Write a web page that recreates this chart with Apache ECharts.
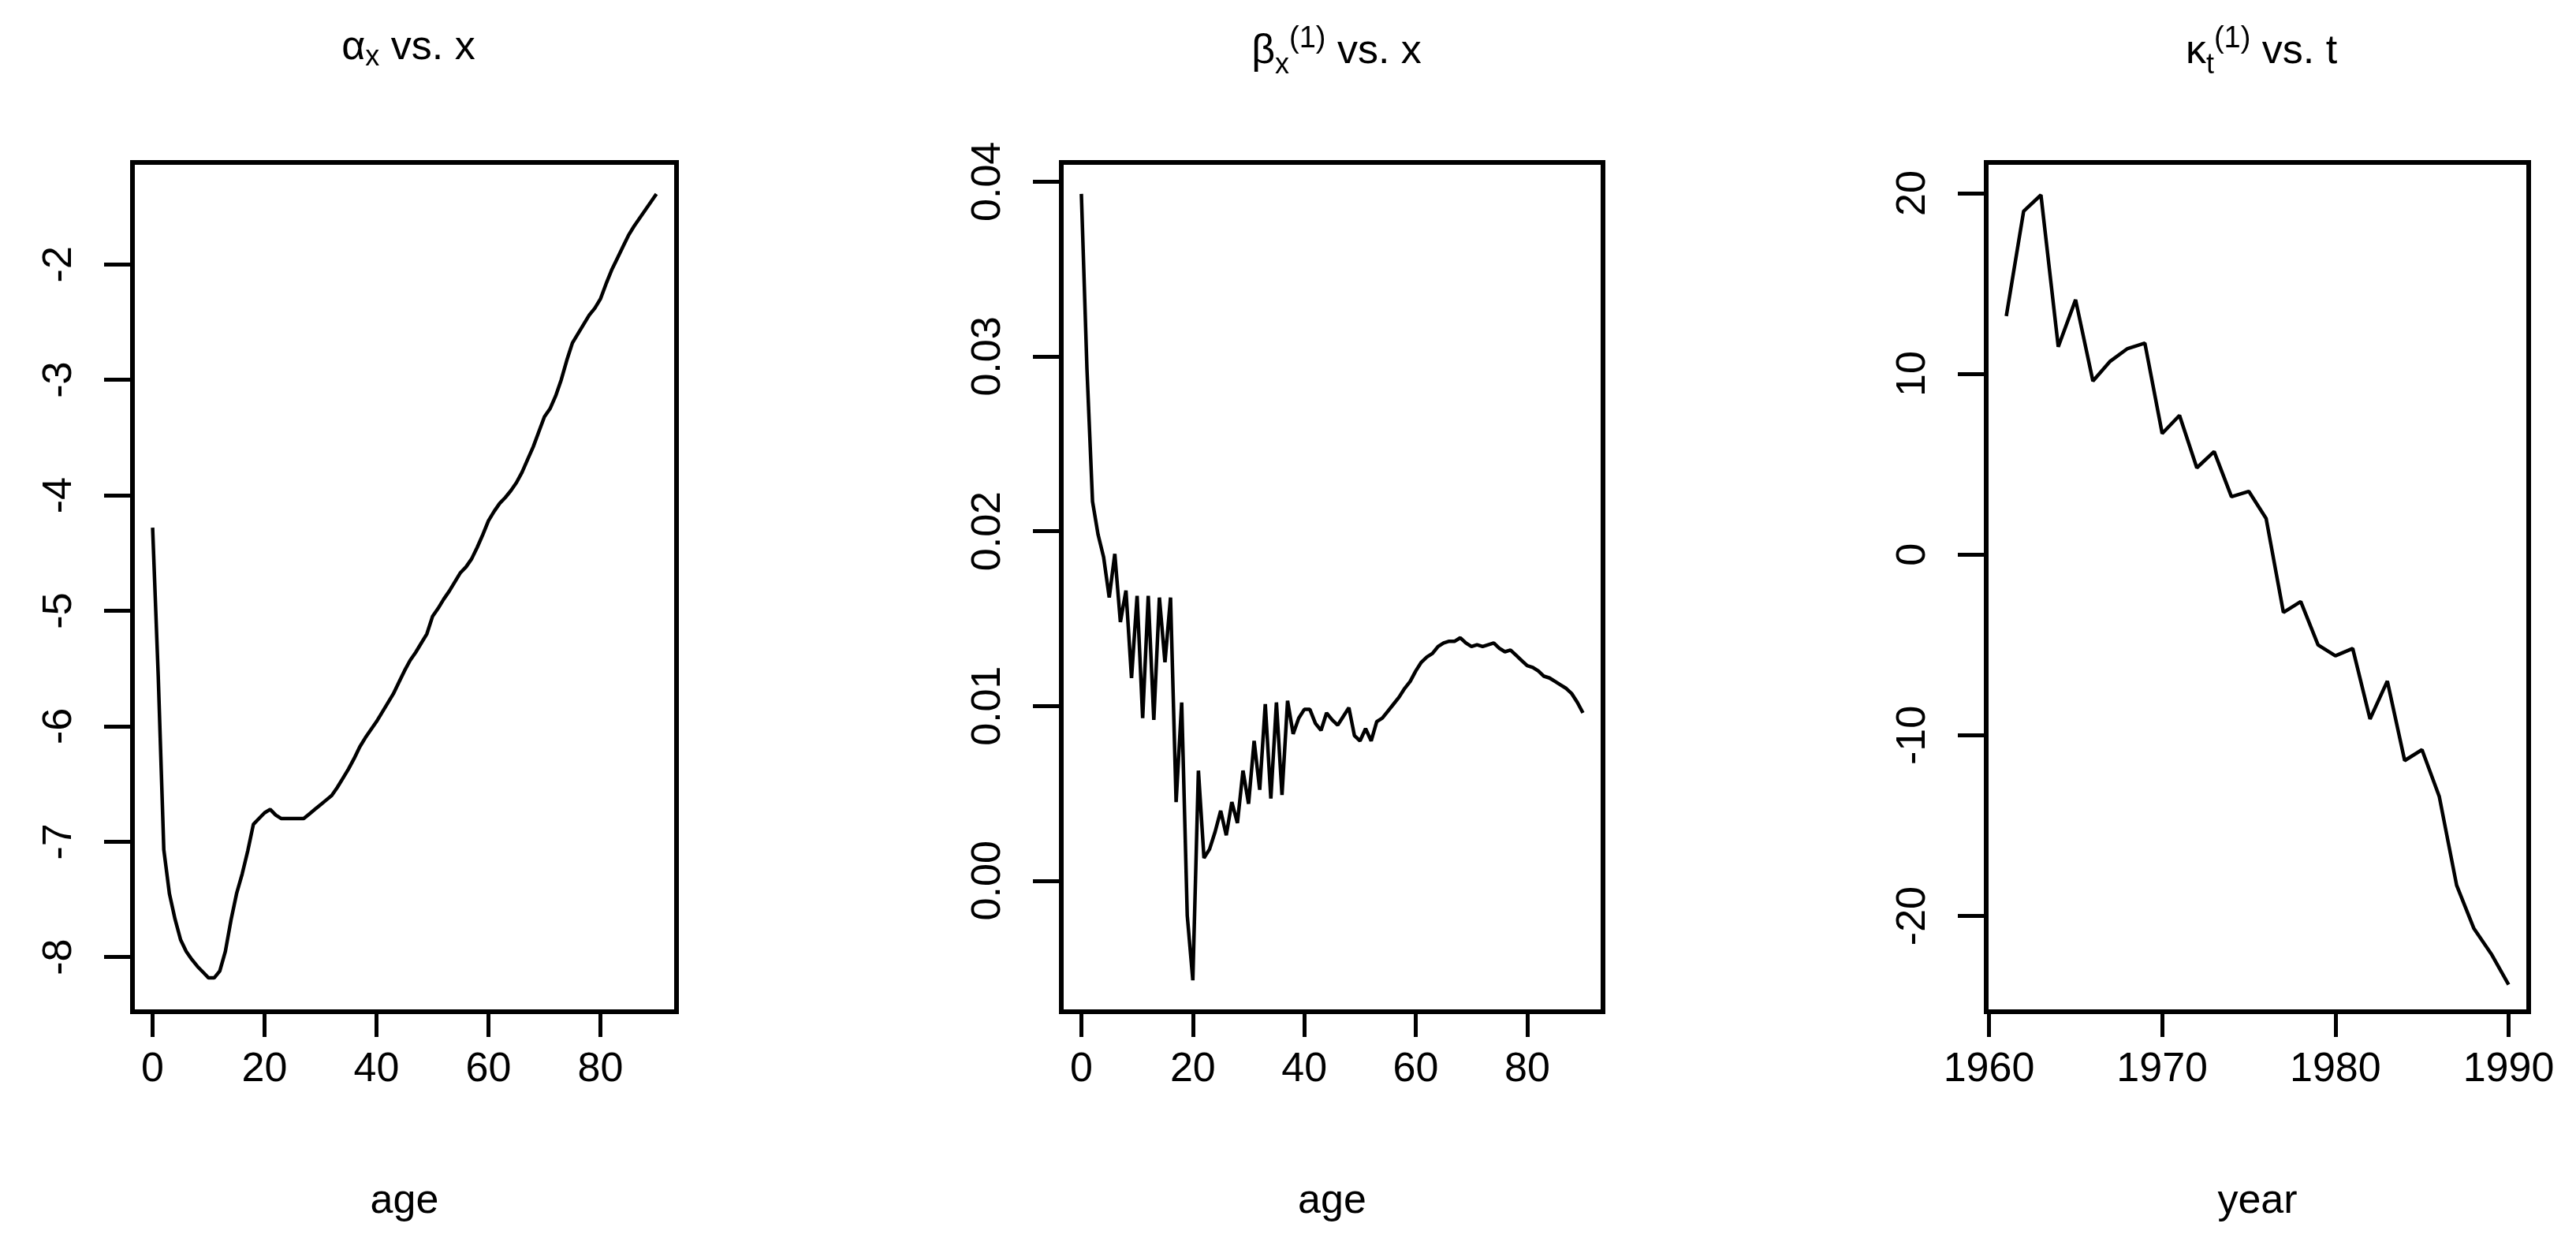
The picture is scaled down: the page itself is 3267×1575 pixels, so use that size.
<!DOCTYPE html>
<html><head><meta charset="utf-8">
<script src="https://cdn.jsdelivr.net/npm/echarts@6/dist/echarts.min.js"></script>
<style>html,body{margin:0;padding:0;background:#fff}#c{width:3267px;height:1575px}</style>
</head><body><div id="c"></div>
<script>
const ages = Array.from({length: 91}, (_, i) => i);
const alphaX = [-4.28,-5.56,-7.07,-7.45,-7.67,-7.85,-7.95,-8.02,-8.08,-8.13,-8.18,-8.18,-8.12,-7.95,-7.68,-7.45,-7.28,-7.08,-6.85,-6.8,-6.75,-6.72,-6.77,-6.8,-6.8,-6.8,-6.8,-6.8,-6.76,-6.72,-6.68,-6.64,-6.6,-6.53,-6.45,-6.37,-6.28,-6.18,-6.1,-6.03,-5.96,-5.88,-5.8,-5.72,-5.62,-5.52,-5.43,-5.36,-5.28,-5.2,-5.05,-4.98,-4.9,-4.83,-4.75,-4.67,-4.62,-4.55,-4.45,-4.34,-4.22,-4.14,-4.07,-4.02,-3.96,-3.89,-3.8,-3.69,-3.58,-3.45,-3.32,-3.25,-3.14,-3.0,-2.83,-2.68,-2.6,-2.52,-2.44,-2.38,-2.3,-2.17,-2.05,-1.95,-1.85,-1.75,-1.67,-1.6,-1.53,-1.46,-1.39];
const betaX = [0.0393,0.0293,0.0217,0.0198,0.0185,0.0162,0.0187,0.0148,0.0166,0.0116,0.0163,0.0093,0.0163,0.0092,0.0162,0.0125,0.0162,0.0045,0.0102,-0.0020,-0.0057,0.0063,0.0013,0.0018,0.0028,0.0040,0.0026,0.0045,0.0033,0.0063,0.0044,0.0080,0.0052,0.0101,0.0047,0.0102,0.0049,0.0103,0.0084,0.0093,0.0098,0.0098,0.0090,0.0086,0.0096,0.0092,0.0089,0.0094,0.0099,0.0083,0.0080,0.0087,0.0080,0.0091,0.0093,0.0097,0.0101,0.0105,0.0110,0.0114,0.0120,0.0125,0.0128,0.0130,0.0134,0.0136,0.0137,0.0137,0.0139,0.0136,0.0134,0.0135,0.0134,0.0135,0.0136,0.0133,0.0131,0.0132,0.0129,0.0126,0.0123,0.0122,0.0120,0.0117,0.0116,0.0114,0.0112,0.0110,0.0107,0.0102,0.0096];
const years = Array.from({length: 30}, (_, i) => 1961 + i);
const kappaT = [13.2,19.0,19.9,11.5,14.1,9.6,10.7,11.4,11.7,6.7,7.7,4.8,5.7,3.2,3.5,2.0,-3.2,-2.6,-5.0,-5.6,-5.2,-9.1,-7.0,-11.4,-10.8,-13.4,-18.3,-20.7,-22.1,-23.8];
const ticksAlpha = [-8,-7,-6,-5,-4,-3,-2];
const ticksBeta = [0.00,0.01,0.02,0.03,0.04];
const ticksKappa = [-20,-10,0,10,20];
const ticksAge = [0,20,40,60,80];
const ticksYear = [1960,1970,1980,1990];

const F = '"Liberation Sans", Arial, sans-serif';
const FS = 52;
const grids = [
  {left:168, width:690, top:206, height:1077},
  {left:1346, width:687, top:206, height:1077},
  {left:2519, width:688, top:206, height:1077}
].map(g => Object.assign(g, {show:true, borderColor:'#000', borderWidth:6, backgroundColor:'#fff'}));

function xAx(i, min, max, ticks, name){
  return {type:'value', gridIndex:i, min, max, name, nameLocation:'middle', nameGap:215,
    nameTextStyle:{fontFamily:F, fontSize:FS, color:'#000'},
    splitLine:{show:false}, axisLine:{show:false, onZero:false},
    axisTick:{show:true, length:32, lineStyle:{color:'#000', width:5}, customValues:ticks},
    axisLabel:{fontFamily:F, fontSize:FS, color:'#000', margin:48, customValues:ticks,
      formatter: v => String(v)}};
}
function yAx(i, min, max, ticks, dec){
  return {type:'value', gridIndex:i, min, max,
    splitLine:{show:false}, axisLine:{show:false, onZero:false},
    axisTick:{show:true, length:36, lineStyle:{color:'#000', width:5}, customValues: ticks},
    axisLabel:{fontFamily:F, fontSize:FS, color:'#000', rotate:90, margin:66, customValues: ticks,
      formatter: v => v.toFixed(dec)}};
}
const ttl = (left, text, rich) => ({text, left, top:26, textAlign:'center',
  textStyle:{fontFamily:F, fontSize:FS, fontWeight:'normal', color:'#000', rich}});
const rich = {
  g:{fontFamily:F, fontSize:FS, color:'#000'},
  sub:{fontFamily:F, fontSize:36, color:'#000', verticalAlign:'bottom', padding:[24,0,0,0]},
  sup:{fontFamily:F, fontSize:38, color:'#000', verticalAlign:'top', padding:[0,0,32,0]}
};

const opt = {
  animation:false, backgroundColor:'#fff',
  title:[
    ttl(513, '{g|α}{sub|x}{g| vs. x}', rich),
    ttl(1690, '{g|β}{sub|x}{sup|(1)}{g| vs. x}', rich),
    ttl(2863, '{g|κ}{sub|t}{sup|(1)}{g| vs. t}', rich)
  ],
  grid: grids,
  xAxis:[
    xAx(0, -3.6, 93.6, ticksAge, 'age'),
    xAx(1, -3.6, 93.6, ticksAge, 'age'),
    xAx(2, 1959.84, 1991.16, ticksYear, 'year')
  ],
  yAxis:[
    yAx(0, -8.473, -1.117, ticksAlpha, 0),
    yAx(1, -0.0075, 0.0411, ticksBeta, 2),
    yAx(2, -25.3, 21.7, ticksKappa, 0)
  ],
  series:[
    {type:'line', xAxisIndex:0, yAxisIndex:0, data: ages.map((a,i)=>[a, alphaX[i]]), showSymbol:false, lineStyle:{color:'#000', width:4.5}},
    {type:'line', xAxisIndex:1, yAxisIndex:1, data: ages.map((a,i)=>[a, betaX[i]]), showSymbol:false, lineStyle:{color:'#000', width:4.5}},
    {type:'line', xAxisIndex:2, yAxisIndex:2, data: years.map((y,i)=>[y, kappaT[i]]), showSymbol:false, lineStyle:{color:'#000', width:4.5}}
  ]
};
echarts.init(document.getElementById('c')).setOption(opt);
</script></body></html>
